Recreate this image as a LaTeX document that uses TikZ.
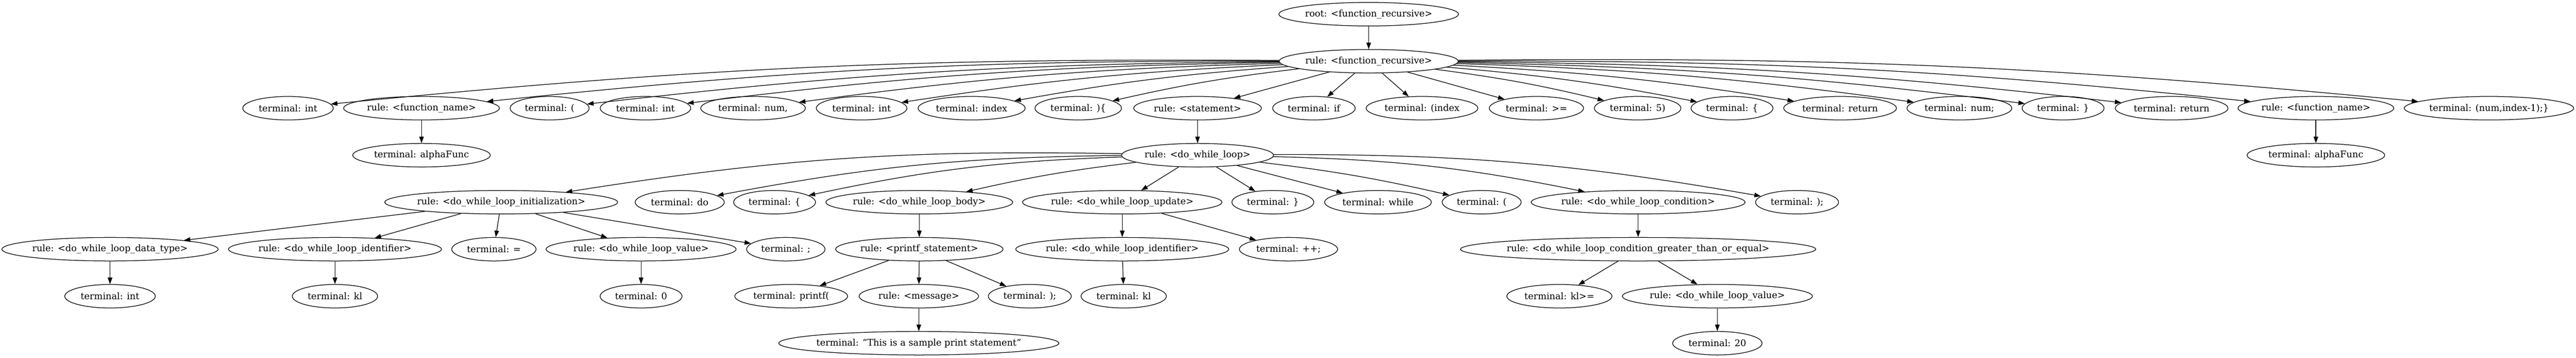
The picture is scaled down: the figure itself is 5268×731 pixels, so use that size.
\documentclass[tikz,border=0pt]{standalone}
\usepackage{fontspec}
\setmainfont{DejaVu Serif}
\usetikzlibrary{arrows.meta,shapes.geometric}

\begin{document}
\begin{tikzpicture}[x=0.25pt,y=-0.25pt,
    treenode/.style={draw,ellipse,line width=0.33pt,
      inner xsep={2.6pt-0.041*\wd\pgfnodeparttextbox},inner ysep=0.6pt,
      minimum height=12pt,font=\fontsize{4.667pt}{5.4pt}\selectfont},
    edge/.style={line width=0.33pt,-{Triangle[length=3.33pt,width=2.33pt]}}]
      \useasboundingbox (0,0) rectangle (5268,731);
      \draw[every node/.style=treenode]
        (2799,29) node (root){root: <function\_recursive>}
        (2799,125) node (fr){rule: <function\_recursive>}
        (589,221) node (a1){terminal: int}
        (862,221) node (a2){rule: <function\_name>}
        (1124,221) node (a3){terminal: (}
        (1320,221) node (a4){terminal: int}
        (1540,221) node (a5){terminal: num,}
        (1762,221) node (a6){terminal: int}
        (1987,221) node (a7){terminal: index}
        (2205,221) node (a8){terminal: )\{}
        (2449,221) node (a9){rule: <statement>}
        (2687,221) node (a10){terminal: if}
        (2908,221) node (a11){terminal: (index}
        (3142,221) node (a12){terminal: >=}
        (3349,221) node (a13){terminal: 5)}
        (3542,221) node (a14){terminal: \{}
        (3763,221) node (a15){terminal: return}
        (4007,221) node (a16){terminal: num;}
        (4219,221) node (a17){terminal: \}}
        (4441,221) node (a18){terminal: return}
        (4736,221) node (a19){rule: <function\_name>}
        (5090,221) node (a20){terminal: (num,index-1);\}}
        (862,317) node (f1){terminal: alphaFunc}
        (2449,317) node (dw){rule: <do\_while\_loop>}
        (4736,317) node (f2){terminal: alphaFunc}
        (1025,413) node (b1){rule: <do\_while\_loop\_initialization>}
        (1390,413) node (b2){terminal: do}
        (1584,413) node (b3){terminal: \{}
        (1880,413) node (b4){rule: <do\_while\_loop\_body>}
        (2295,413) node (b5){rule: <do\_while\_loop\_update>}
        (2603,413) node (b6){terminal: \}}
        (2818,413) node (b7){terminal: while}
        (3030,413) node (b8){terminal: (}
        (3350,413) node (b9){rule: <do\_while\_loop\_condition>}
        (3675,413) node (b10){terminal: );}
        (225,509) node (c1){rule: <do\_while\_loop\_data\_type>}
        (685,509) node (c2){rule: <do\_while\_loop\_identifier>}
        (1010,509) node (c3){terminal: =}
        (1311,509) node (c4){rule: <do\_while\_loop\_value>}
        (1607,509) node (c5){terminal: ;}
        (1880,509) node (c6){rule: <printf\_statement>}
        (2295,509) node (c7){rule: <do\_while\_loop\_identifier>}
        (2635,509) node (c8){terminal: ++;}
        (3350,509) node (c9){rule: <do\_while\_loop\_condition\_greater\_than\_or\_equal>}
        (225,605) node (d1){terminal: int}
        (685,605) node (d2){terminal: kl}
        (1311,605) node (d3){terminal: 0}
        (1618,605) node (d4){terminal: printf(}
        (1879,605) node (d5){rule: <message>}
        (2106,605) node (d6){terminal: );}
        (2298,605) node (d7){terminal: kl}
        (3189,605) node (d8){terminal: kl>=}
        (3512,605) node (d9){rule: <do\_while\_loop\_value>}
        (1879,701) node (e1){terminal: "This is a sample print statement"}
        (3512,701) node (e2){terminal: 20};
      \begin{scope}[edge]
        \draw (root) to (fr);
        \draw (fr) to[bend right=3] (a1);
        \draw (fr) to[bend right=3] (a2);
        \draw (fr) to[bend right=3] (a3);
        \draw (fr) to[bend right=3] (a4);
        \draw (fr) to[bend right=3] (a5);
        \draw (fr) to[bend right=3] (a6);
        \draw (fr) to[bend right=3] (a7);
        \draw (fr) to[bend right=3] (a8);
        \draw (fr) to (a9);
        \draw (fr) to (a10);
        \draw (fr) to (a11);
        \draw (fr) to (a12);
        \draw (fr) to[bend left=3] (a13);
        \draw (fr) to[bend left=3] (a14);
        \draw (fr) to[bend left=3] (a15);
        \draw (fr) to[bend left=3] (a16);
        \draw (fr) to[bend left=3] (a17);
        \draw (fr) to[bend left=3] (a18);
        \draw (fr) to[bend left=3] (a19);
        \draw (fr) to[bend left=3] (a20);
        \draw (a2) to (f1);
        \draw (a9) to (dw);
        \draw (a19) to (f2);
        \draw (dw) to[bend right=5] (b1);
        \draw (dw) to[bend right=5] (b2);
        \draw (dw) to[bend right=5] (b3);
        \draw (dw) to[bend right=3] (b4);
        \draw (dw) to (b5);
        \draw (dw) to (b6);
        \draw (dw) to (b7);
        \draw (dw) to[bend left=3] (b8);
        \draw (dw) to[bend left=5] (b9);
        \draw (dw) to[bend left=5] (b10);
        \draw (b1) to (c1);
        \draw (b1) to (c2);
        \draw (b1) to (c3);
        \draw (b1) to (c4);
        \draw (b1) to (c5);
        \draw (c1) to (d1);
        \draw (c2) to (d2);
        \draw (c4) to (d3);
        \draw (b4) to (c6);
        \draw (c6) to (d4);
        \draw (c6) to (d5);
        \draw (c6) to (d6);
        \draw (d5) to (e1);
        \draw (b5) to (c7);
        \draw (b5) to (c8);
        \draw (c7) to (d7);
        \draw (b9) to (c9);
        \draw (c9) to (d8);
        \draw (c9) to (d9);
        \draw (d9) to (e2);
      \end{scope}
    \end{tikzpicture}
\end{document}
